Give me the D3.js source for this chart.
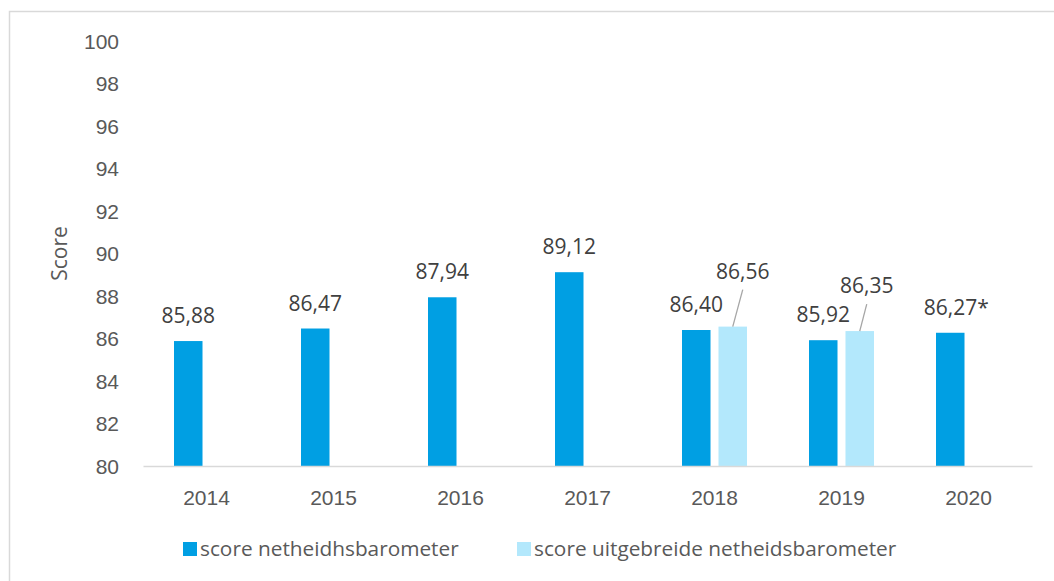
<!DOCTYPE html>
<html>
<head>
<meta charset="utf-8">
<script src="https://cdn.jsdelivr.net/npm/d3@7"></script>
<style>
  html, body { margin: 0; padding: 0; background: #fff; }
  svg { display: block; font-family: "Open Sans", sans-serif; }
  .tick-label { fill: #595959; font-size: 21px; }
  .value-label { fill: #404040; font-size: 21px; }
  .legend-text { fill: #595959; font-size: 20.8px; }
</style>
</head>
<body>
<svg id="chart" width="1054" height="581"></svg>
<script>
// Data
const years = ['2014', '2015', '2016', '2017', '2018', '2019', '2020'];
const scoreNetheid = [85.88, 86.47, 87.94, 89.12, 86.40, 85.92, 86.27];
const scoreUitgebreid = [null, null, null, null, 86.56, 86.35, null];
const netheidSuffix = ['', '', '', '', '', '', '*'];
const yTicks = [80, 82, 84, 86, 88, 90, 92, 94, 96, 98, 100];
const seriesNames = ['score netheidhsbarometer', 'score uitgebreide netheidsbarometer'];

const COLORS = {
    dark: '#009fe3',
    light: '#b3e8fc',
    axis: '#d9d9d9',
    border: '#d9d9d9',
    leader: '#a6a6a6'
};

const svg = d3.select('#chart');
const fmt = v => v.toFixed(2).replace('.', ',');

// outer border of the chart area
svg.append('rect')
    .attr('x', 9.5).attr('y', 11.5)
    .attr('width', 1100).attr('height', 700)
    .attr('fill', 'none')
    .attr('stroke', COLORS.border)
    .attr('stroke-width', 1.5);

// scales
const x = d3.scaleBand().domain(years).range([143, 1032]);
const sub = d3.scaleBand().domain([0, 1]).range([-32.5, 32.5]).paddingInner(0.219);
const y = d3.scaleLinear().domain([80, 100]).range([466, 41]);

// y axis labels (no axis line)
const yAxis = d3.axisLeft(y).tickValues(yTicks).tickSize(0).tickPadding(0);
const yg = svg.append('g')
    .attr('transform', 'translate(119,0)')
    .call(yAxis);
yg.select('.domain').remove();
yg.selectAll('text').attr('class', 'tick-label').attr('font-family', null).attr('font-size', null).attr('dy', '0.35em');

// y axis title
svg.append('text')
    .attr('class', 'tick-label')
    .attr('transform', `translate(67,${(y(80) + y(100)) / 2}) rotate(-90)`)
    .attr('text-anchor', 'middle')
    .text('Score');

// bars
const seriesData = [scoreNetheid, scoreUitgebreid];
const seriesColors = [COLORS.dark, COLORS.light];
seriesData.forEach((vals, si) => {
    const rows = years.map((yr, i) => ({ yr, v: vals[i], i })).filter(d => d.v != null);
    svg.append('g').selectAll('rect')
        .data(rows)
        .join('rect')
        .attr('x', d => x(d.yr) + x.bandwidth() / 2 + sub(si))
        .attr('width', sub.bandwidth())
        .attr('y', d => y(d.v))
        .attr('height', d => y(80) - y(d.v))
        .attr('fill', seriesColors[si]);
});

// x axis
const xAxis = d3.axisBottom(x).tickSize(0).tickPadding(0);
const xg = svg.append('g')
    .attr('transform', `translate(0,${y(80)})`)
    .call(xAxis);
xg.select('.domain').attr('stroke', COLORS.axis).attr('stroke-width', 1.5);
xg.selectAll('text').attr('class', 'tick-label').attr('font-family', null).attr('font-size', null)
    .attr('dy', null).attr('y', 39);

// value labels for first series
svg.append('g').selectAll('text')
    .data(years.map((yr, i) => ({ yr, v: scoreNetheid[i], s: netheidSuffix[i] })))
    .join('text')
    .attr('class', 'value-label')
    .attr('text-anchor', 'middle')
    .attr('x', d => x(d.yr) + x.bandwidth() / 2 + sub(0) + sub.bandwidth() / 2 + (d.s ? 6 : 0))
    .attr('y', d => y(d.v) - 18)
    .text(d => fmt(d.v) + d.s);

// value labels for second series, lifted with leader lines
const liftOffsets = { '2018': { dx: 10, dy: -48 }, '2019': { dx: 7, dy: -38 } };
const lifted = years.map((yr, i) => ({ yr, v: scoreUitgebreid[i] })).filter(d => d.v != null);
const lg = svg.append('g');
lifted.forEach(d => {
    const bx = x(d.yr) + x.bandwidth() / 2 + sub(1) + sub.bandwidth() / 2;
    const by = y(d.v);
    const off = liftOffsets[d.yr];
    const lx = bx + off.dx, ly = by + off.dy;
    lg.append('line')
        .attr('x1', lx).attr('y1', ly + 11)
        .attr('x2', bx).attr('y2', by)
        .attr('stroke', COLORS.leader)
        .attr('stroke-width', 1.3);
    lg.append('text')
        .attr('class', 'value-label')
        .attr('text-anchor', 'middle')
        .attr('x', lx).attr('y', ly)
        .text(fmt(d.v));
});

// legend
const legend = svg.append('g');
const legendX = [183, 517];
seriesNames.forEach((name, i) => {
    legend.append('rect')
        .attr('x', legendX[i]).attr('y', 542)
        .attr('width', 14).attr('height', 14)
        .attr('fill', seriesColors[i]);
    legend.append('text')
        .attr('class', 'legend-text')
        .attr('x', legendX[i] + 17).attr('y', 556)
        .text(name);
});
</script>
</body>
</html>
